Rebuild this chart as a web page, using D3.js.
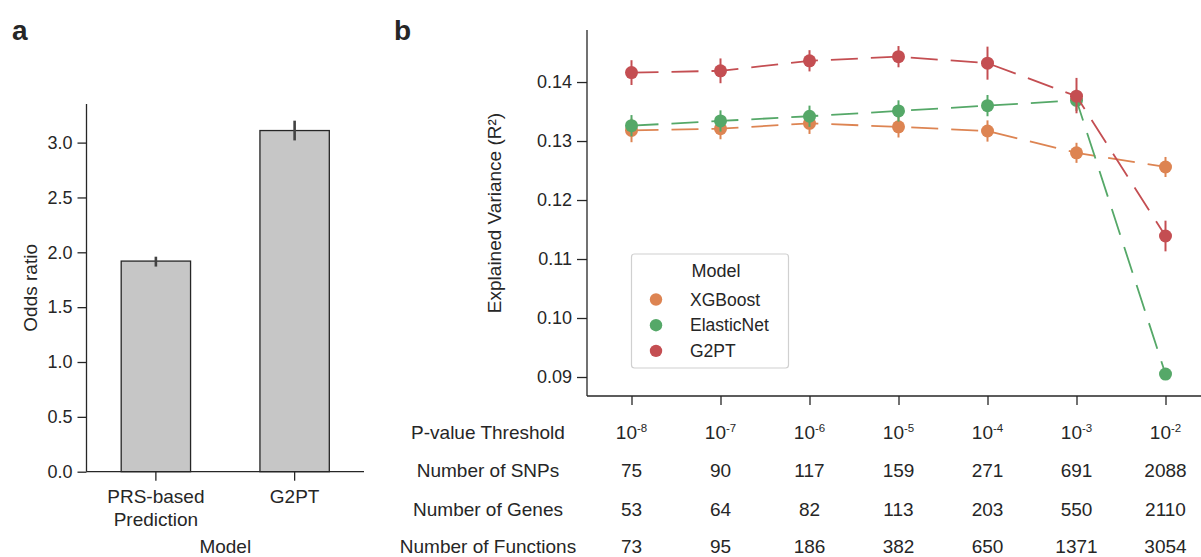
<!DOCTYPE html>
<html>
<head>
<meta charset="utf-8">
<script src="https://cdn.jsdelivr.net/npm/d3@7"></script>
<style>
  body { margin: 0; background: #fff; }
  svg { font-family: 'Liberation Sans', Arial, sans-serif; }
  text { fill: #262626; }
</style>
</head>
<body>
<div id="chart"></div>
<script>
// panel a data
const oddsModels = ['PRS-based Prediction', 'G2PT'];
const oddsRatio = [1.92, 3.11];
const oddsLow = [1.87, 3.02];
const oddsHigh = [1.96, 3.2];
const oddsTicks = [0, 0.5, 1, 1.5, 2, 2.5, 3];

// panel b data
const pExponents = [-8, -7, -6, -5, -4, -3, -2];
const numSNPs = [75, 90, 117, 159, 271, 691, 2088];
const numGenes = [53, 64, 82, 113, 203, 550, 2110];
const numFunctions = [73, 95, 186, 382, 650, 1371, 3054];
const r2Ticks = [0.09, 0.1, 0.11, 0.12, 0.13, 0.14];

const xgboostR2 = [0.1318, 0.1321, 0.133, 0.1324, 0.1317, 0.128, 0.1256];
const xgboostLow = [0.1298, 0.1303, 0.1312, 0.1306, 0.1299, 0.1263, 0.1239];
const xgboostHigh = [0.1338, 0.1339, 0.1348, 0.1342, 0.1335, 0.1297, 0.1273];

const elasticR2 = [0.1326, 0.1334, 0.1342, 0.1351, 0.136, 0.1369, 0.0905];
const elasticLow = [0.1308, 0.1316, 0.1324, 0.1333, 0.1342, 0.1351, 0.0898];
const elasticHigh = [0.1344, 0.1352, 0.136, 0.1369, 0.1378, 0.1387, 0.0912];

const g2ptR2 = [0.1416, 0.1419, 0.1436, 0.1443, 0.1432, 0.1376, 0.1139];
const g2ptLow = [0.1395, 0.1398, 0.1418, 0.1425, 0.1404, 0.1347, 0.1113];
const g2ptHigh = [0.1437, 0.1440, 0.1454, 0.1461, 0.146, 0.1407, 0.1165];

const modelNames = ['XGBoost', 'ElasticNet', 'G2PT'];
const modelColors = ['#dd8452', '#55a868', '#c44e52'];

const series = [
  { name: modelNames[0], color: modelColors[0], v: xgboostR2, lo: xgboostLow, hi: xgboostHigh },
  { name: modelNames[1], color: modelColors[1], v: elasticR2, lo: elasticLow, hi: elasticHigh },
  { name: modelNames[2], color: modelColors[2], v: g2ptR2, lo: g2ptLow, hi: g2ptHigh }
];

const W = 1201, H = 557;
const ink = '#262626';
const fs = 18;
const fsLab = 19;

const svg = d3.select('#chart').append('svg')
  .attr('width', W).attr('height', H);

// ---------- panel a ----------
const ax = { left: 86.5, right: 364, top: 104, bottom: 471.7 };
const xA = d3.scaleBand().domain(oddsModels).range([ax.left, ax.right]).paddingInner(0.5).paddingOuter(0.25);
const yA = d3.scaleLinear().domain([0, 3.352]).range([ax.bottom, ax.top]);

const gA = svg.append('g');

gA.selectAll('rect.bar')
  .data(oddsModels)
  .enter()
  .append('rect')
  .attr('class', 'bar')
  .attr('x', (d) => xA(d))
  .attr('width', xA.bandwidth())
  .attr('y', (d, i) => yA(oddsRatio[i]))
  .attr('height', (d, i) => yA(0) - yA(oddsRatio[i]))
  .attr('fill', '#c6c6c6')
  .attr('stroke', '#262626')
  .attr('stroke-width', 1.3);

gA.selectAll('line.err')
  .data(oddsModels)
  .enter()
  .append('line')
  .attr('class', 'err')
  .attr('x1', (d) => xA(d) + xA.bandwidth() / 2)
  .attr('x2', (d) => xA(d) + xA.bandwidth() / 2)
  .attr('y1', (d, i) => yA(oddsLow[i]))
  .attr('y2', (d, i) => yA(oddsHigh[i]))
  .attr('stroke', '#424242')
  .attr('stroke-width', 2.6);

const yAxisA = gA.append('g')
  .attr('transform', `translate(${ax.left},0)`)
  .call(d3.axisLeft(yA).tickValues(oddsTicks).tickFormat(d3.format('.1f')).tickSize(9).tickPadding(5));

const xAxisA = gA.append('g')
  .attr('transform', `translate(0,${ax.bottom})`)
  .call(d3.axisBottom(xA).tickSize(9).tickFormat(''));

[yAxisA, xAxisA].forEach((g) => {
  g.select('.domain').attr('stroke', ink).attr('stroke-width', 1.3);
  g.selectAll('.tick line').attr('stroke', ink).attr('stroke-width', 1.3);
  g.selectAll('.tick text').attr('font-size', fs).attr('fill', ink);
});
// keep the spines as long as the axes
yAxisA.select('.domain').attr('d', `M0,${ax.top}V${ax.bottom}`);
xAxisA.select('.domain').attr('d', `M${ax.left},0H${ax.right}`);

oddsModels.forEach((m) => {
  const words = m === 'PRS-based Prediction' ? ['PRS-based', 'Prediction'] : [m];
  const t = gA.append('text')
    .attr('x', xA(m) + xA.bandwidth() / 2)
    .attr('y', 503)
    .attr('text-anchor', 'middle')
    .attr('font-size', fsLab);
  words.forEach((w, j) => {
    t.append('tspan').attr('x', xA(m) + xA.bandwidth() / 2).attr('dy', j ? 23 : 0).text(w);
  });
});

gA.append('text')
  .attr('x', (ax.left + ax.right) / 2)
  .attr('y', 553)
  .attr('text-anchor', 'middle')
  .attr('font-size', fsLab)
  .text('Model');

gA.append('text')
  .attr('transform', `translate(37,${(ax.top + ax.bottom) / 2}) rotate(-90)`)
  .attr('text-anchor', 'middle')
  .attr('font-size', fsLab)
  .text('Odds ratio');

svg.append('text')
  .attr('x', 12).attr('y', 40)
  .attr('font-size', 28).attr('font-weight', 'bold')
  .attr('fill', '#000')
  .text('a');

svg.append('text')
  .attr('x', 394).attr('y', 40)
  .attr('font-size', 28).attr('font-weight', 'bold')
  .attr('fill', '#000')
  .text('b');

// ---------- panel b ----------
const bx = { left: 587, top: 30, bottom: 396 };
const step = 89;
const xB = d3.scalePoint().domain(pExponents).range([bx.left + step / 2, bx.left + step / 2 + step * 6]);
const yB = d3.scaleLinear().domain([0.08678, 0.14882]).range([bx.bottom, bx.top]);

const gB = svg.append('g');

const yAxisB = gB.append('g')
  .attr('transform', `translate(${bx.left},0)`)
  .call(d3.axisLeft(yB).tickValues(r2Ticks).tickFormat(d3.format('.2f')).tickSize(10).tickPadding(5));

const xAxisB = gB.append('g')
  .attr('transform', `translate(0,${bx.bottom})`)
  .call(d3.axisBottom(xB).tickSize(9).tickFormat(''));

[yAxisB, xAxisB].forEach((g) => {
  g.select('.domain').attr('stroke', ink).attr('stroke-width', 1.3);
  g.selectAll('.tick line').attr('stroke', ink).attr('stroke-width', 1.3);
  g.selectAll('.tick text').attr('font-size', fs).attr('fill', ink);
});
yAxisB.select('.domain').attr('d', `M0,${bx.top}V${bx.bottom}`);
xAxisB.select('.domain').attr('d', `M${bx.left},0H${bx.left + step * 7}`);

gB.append('text')
  .attr('transform', `translate(501,${(bx.top + bx.bottom) / 2}) rotate(-90)`)
  .attr('text-anchor', 'middle')
  .attr('font-size', fsLab)
  .text('Explained Variance (R²)');

const line = d3.line()
  .x((d, i) => xB(pExponents[i]))
  .y((d) => yB(d));

series.forEach((s) => {
  const g = gB.append('g');
  g.selectAll('line')
    .data(s.v)
    .enter()
    .append('line')
    .attr('x1', (d, i) => xB(pExponents[i]))
    .attr('x2', (d, i) => xB(pExponents[i]))
    .attr('y1', (d, i) => yB(s.lo[i]))
    .attr('y2', (d, i) => yB(s.hi[i]))
    .attr('stroke', s.color)
    .attr('stroke-width', 2);
  g.append('path')
    .attr('d', line(s.v))
    .attr('fill', 'none')
    .attr('stroke', s.color)
    .attr('stroke-width', 1.8)
    .attr('stroke-dasharray', '27,13');
  g.selectAll('circle')
    .data(s.v)
    .enter()
    .append('circle')
    .attr('cx', (d, i) => xB(pExponents[i]))
    .attr('cy', (d) => yB(d))
    .attr('r', 6.5)
    .attr('fill', s.color);
});

// legend
const lg = gB.append('g');
lg.append('rect')
  .attr('x', 631.5).attr('y', 254)
  .attr('width', 157).attr('height', 114)
  .attr('rx', 3)
  .attr('fill', '#fff')
  .attr('fill-opacity', 0.8)
  .attr('stroke', '#d0d0d0')
  .attr('stroke-width', 1.2);
lg.append('text')
  .attr('x', 716).attr('y', 277)
  .attr('text-anchor', 'middle')
  .attr('font-size', fs)
  .text('Model');
series.forEach((s, i) => {
  lg.append('circle')
    .attr('cx', 656).attr('cy', 299.5 + i * 25.7)
    .attr('r', 6.2)
    .attr('fill', s.color);
  lg.append('text')
    .attr('x', 690).attr('y', 299.5 + i * 25.7 + 6)
    .attr('font-size', 17.5)
    .text(s.name);
});

// table under the axis
const rows = [
  { label: 'P-value Threshold', y: 439, vals: pExponents, exp: true },
  { label: 'Number of SNPs', y: 477, vals: numSNPs },
  { label: 'Number of Genes', y: 516, vals: numGenes },
  { label: 'Number of Functions', y: 553, vals: numFunctions }
];

rows.forEach((r) => {
  gB.append('text')
    .attr('x', 488).attr('y', r.y)
    .attr('text-anchor', 'middle')
    .attr('font-size', fsLab)
    .text(r.label);
  r.vals.forEach((v, i) => {
    const t = gB.append('text')
      .attr('x', xB(pExponents[i]))
      .attr('y', r.y)
      .attr('text-anchor', 'middle')
      .attr('font-size', fsLab);
    if (r.exp) {
      t.append('tspan').text('10');
      t.append('tspan').attr('font-size', 11.5).attr('dy', -7).text(v);
    } else {
      t.text(v);
    }
  });
});
</script>
</body>
</html>
